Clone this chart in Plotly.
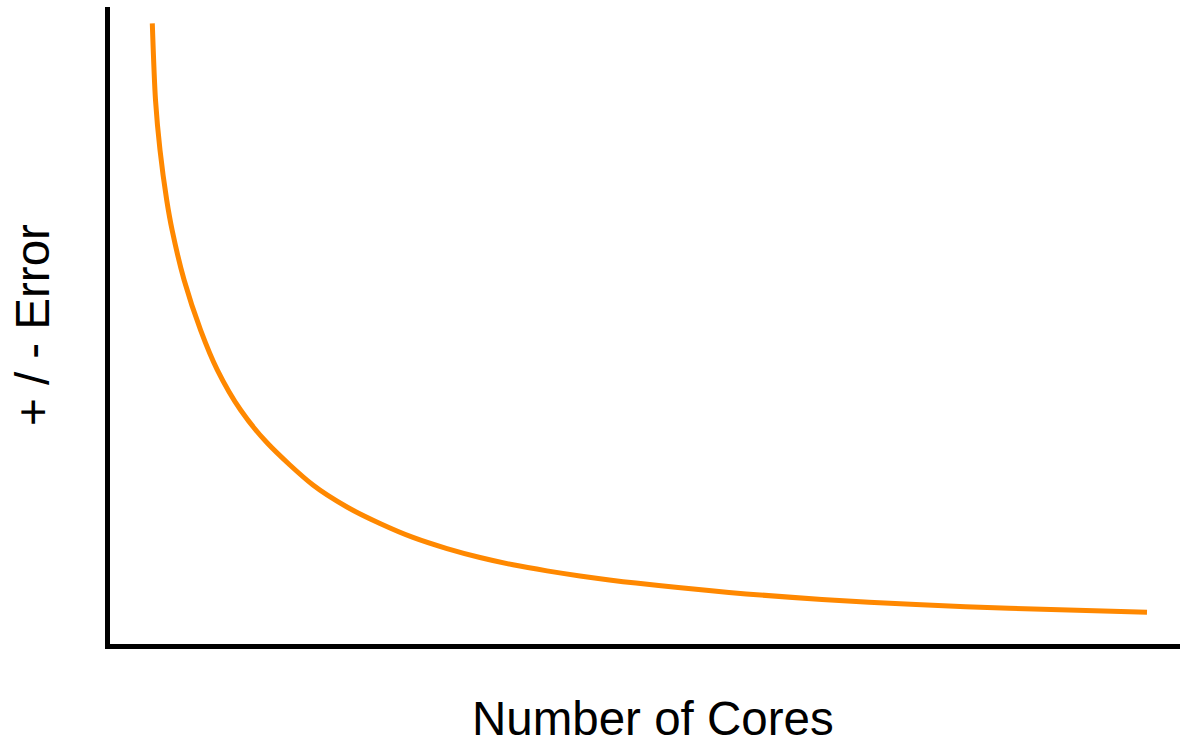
import plotly.graph_objects as go

# Values (arbitrary units, axes have no ticks)
cores = [3.953, 4.252, 4.673, 5.299, 5.804, 6.925, 8.467, 10.037, 12.206, 14.701,
         18.972, 22.150, 25.234, 28.318, 31.495, 34.579, 37.664, 40.841, 43.925,
         49.159, 57.850, 66.542, 75.327, 84.019, 96.916]
error = [97.44, 85.40, 77.55, 69.70, 64.99, 57.14, 49.29, 43.01, 36.73, 31.55,
         24.96, 21.51, 18.92, 16.73, 14.98, 13.58, 12.43, 11.48, 10.69,
         9.56, 8.10, 7.00, 6.19, 5.60, 4.98]

x_title = "Number of Cores"
y_title = "+ / - Error"

fig = go.Figure()
fig.add_trace(go.Scatter(
    x=cores, y=error, mode="lines",
    line=dict(color="#FF8800", width=5, shape="spline", smoothing=0.8),
    showlegend=False, hoverinfo="skip",
))

font = dict(family="Liberation Sans, Arial, Helvetica, sans-serif", size=47.5, color="#000000")

axis_common = dict(range=[0, 100], showline=True, linecolor="black", linewidth=5,
                   showgrid=False, zeroline=False, showticklabels=False, ticks="",
                   automargin=False, fixedrange=True)

fig.update_layout(
    width=1180, height=747,
    margin=dict(l=110, r=0, t=7, b=103, autoexpand=False),
    paper_bgcolor="white", plot_bgcolor="white",
    font=font,
    xaxis=axis_common,
    yaxis=axis_common,
    annotations=[
        dict(text=x_title, xref="paper", yref="paper", x=0.5075, y=-0.117,
             xanchor="center", yanchor="middle", showarrow=False, font=font),
        dict(text=y_title, xref="paper", yref="paper", x=-0.0724, y=0.5,
             xanchor="center", yanchor="middle", showarrow=False, font=font,
             textangle=-90),
    ],
)

fig.write_html(
    "out.html",
    config={"displayModeBar": False},
    post_script="document.body.style.margin='0px';document.body.style.overflow='hidden';",
)
